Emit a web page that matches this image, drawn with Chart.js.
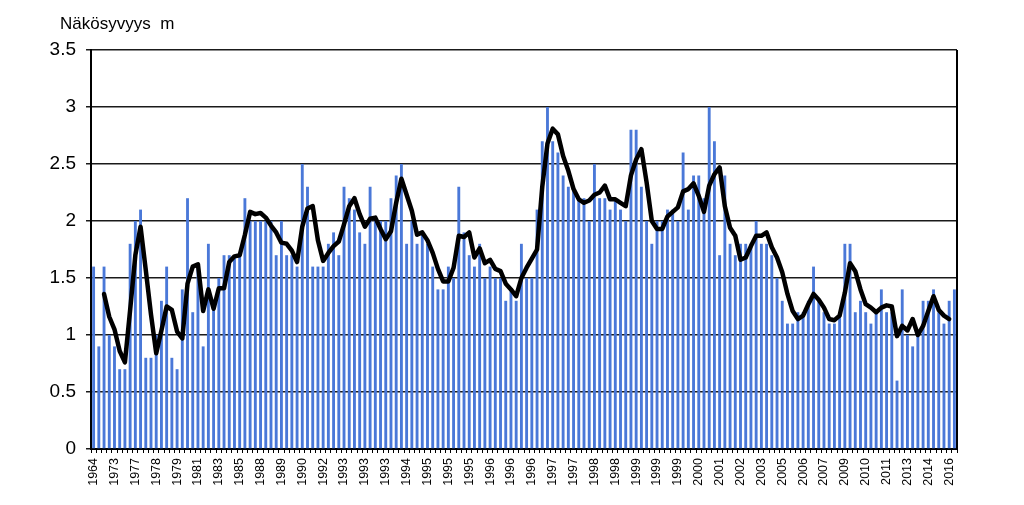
<!DOCTYPE html>
<html>
<head>
<meta charset="utf-8">
<script src="https://cdn.jsdelivr.net/npm/chart.js@4/dist/chart.umd.min.js"></script>
<style>
  html, body { margin: 0; padding: 0; background: #fff; }
  #wrap { width: 1024px; height: 505px; }
</style>
</head>
<body>
<div id="wrap"><canvas id="chart" width="1024" height="505"></canvas></div>
<script>
const yTitle = "Näkösyvyys  m";

// shown every 4th bar
const tickLabels = [
  "1964", "1973", "1977", "1978", "1979", "1981", "1983", "1985", "1988", "1989",
  "1990", "1992", "1993", "1993", "1993", "1994", "1995", "1995", "1995", "1996",
  "1996", "1996", "1997", "1997", "1998", "1998", "1999", "1999", "1999", "2000",
  "2001", "2002", "2003", "2005", "2006", "2007", "2009", "2010", "2011", "2013",
  "2014", "2016"
];

// visibility depth per measurement, m
const barValues = [
  1.6, 0.9, 1.6, 1.0, 0.9, 0.7, 0.7, 1.8, 2.0, 2.1,
  0.8, 0.8, 1.0, 1.3, 1.6, 0.8, 0.7, 1.4, 2.2, 1.2,
  1.6, 0.9, 1.8, 1.3, 1.5, 1.7, 1.7, 1.7, 1.7, 2.2,
  2.0, 2.0, 2.0, 2.0, 2.0, 1.7, 2.0, 1.7, 1.7, 1.6,
  2.5, 2.3, 1.6, 1.6, 1.6, 1.8, 1.9, 1.7, 2.3, 2.2,
  2.1, 1.9, 1.8, 2.3, 2.0, 2.0, 2.0, 2.2, 2.4, 2.5,
  1.8, 2.0, 1.8, 1.9, 1.8, 1.6, 1.4, 1.4, 1.6, 1.5,
  2.3, 1.9, 1.7, 1.6, 1.8, 1.5, 1.6, 1.5, 1.5, 1.3,
  1.4, 1.3, 1.8, 1.5, 1.5, 2.1, 2.7, 3.0, 2.7, 2.6,
  2.4, 2.3, 2.3, 2.2, 2.2, 2.0, 2.5, 2.2, 2.2, 2.1,
  2.2, 2.1, 2.0, 2.8, 2.8, 2.3, 2.0, 1.8, 2.0, 2.0,
  2.1, 2.1, 2.0, 2.6, 2.1, 2.4, 2.4, 2.2, 3.0, 2.7,
  1.7, 2.4, 1.8, 1.7, 1.8, 1.8, 1.8, 2.0, 1.8, 1.8,
  1.7, 1.5, 1.3, 1.1, 1.1, 1.2, 1.2, 1.3, 1.6, 1.3,
  1.2, 1.1, 1.1, 1.2, 1.8, 1.8, 1.2, 1.3, 1.2, 1.1,
  1.2, 1.4, 1.2, 1.2, 0.6, 1.4, 1.0, 0.9, 1.0, 1.3,
  1.3, 1.4, 1.2, 1.1, 1.3, 1.4
];

// moving average line
const avgValues = [
  null, null, 1.36, 1.16, 1.05, 0.86, 0.76, 1.22, 1.70, 1.95,
  1.57, 1.18, 0.84, 1.04, 1.25, 1.22, 1.03, 0.97, 1.45, 1.60,
  1.62, 1.21, 1.40, 1.23, 1.41, 1.41, 1.64, 1.69, 1.70, 1.88,
  2.08, 2.06, 2.07, 2.03, 1.96, 1.90, 1.81, 1.80, 1.74, 1.64,
  1.95, 2.11, 2.13, 1.83, 1.65, 1.72, 1.78, 1.82, 1.97, 2.13,
  2.20, 2.06, 1.95, 2.02, 2.03, 1.93, 1.84, 1.91, 2.16, 2.37,
  2.23, 2.09, 1.88, 1.90, 1.83, 1.72, 1.58, 1.47, 1.47, 1.59,
  1.87, 1.86, 1.90, 1.68, 1.76, 1.63, 1.66, 1.58, 1.56, 1.45,
  1.40, 1.34, 1.50, 1.59, 1.67, 1.75, 2.30, 2.68, 2.81, 2.76,
  2.57, 2.44, 2.28, 2.19, 2.16, 2.18, 2.23, 2.25, 2.31, 2.19,
  2.19, 2.16, 2.13, 2.40, 2.54, 2.63, 2.34, 2.00, 1.93, 1.93,
  2.04, 2.08, 2.12, 2.26, 2.28, 2.33, 2.22, 2.08, 2.31, 2.41,
  2.47, 2.13, 1.94, 1.87, 1.66, 1.68, 1.78, 1.87, 1.87, 1.90,
  1.77, 1.68, 1.55, 1.36, 1.21, 1.14, 1.17, 1.27, 1.36, 1.31,
  1.24, 1.14, 1.13, 1.17, 1.37, 1.63, 1.56, 1.40, 1.27, 1.24,
  1.20, 1.24, 1.26, 1.25, 0.99, 1.08, 1.04, 1.14, 1.00, 1.08,
  1.21, 1.34, 1.22, 1.17, 1.14, null
];

const FONT = "'Liberation Sans', Arial, sans-serif";
Chart.defaults.font.family = FONT;
Chart.defaults.color = "#000";

// right border of the plot and the unit title
const framePlugin = {
  id: "frame",
  afterDraw(chart) {
    const {ctx, chartArea} = chart;
    ctx.save();
    ctx.strokeStyle = "#000";
    ctx.lineWidth = 2;
    ctx.beginPath();
    ctx.moveTo(chartArea.right, chartArea.top);
    ctx.lineTo(chartArea.right, chartArea.bottom);
    ctx.stroke();
    ctx.fillStyle = "#000";
    ctx.font = "17px " + FONT;
    ctx.fillText(yTitle, 60, 29);
    ctx.restore();
  }
};

new Chart(document.getElementById("chart"), {
  type: "bar",
  data: {
    labels: barValues.map((_, i) => i),
    datasets: [
      {
        type: "line",
        data: avgValues,
        borderColor: "#000",
        borderWidth: 4.5,
        borderJoinStyle: "round",
        borderCapStyle: "round",
        pointRadius: 0,
        tension: 0,
        spanGaps: false,
        order: 0
      },
      {
        data: barValues,
        backgroundColor: "#4a78d8",
        barPercentage: 0.55,
        categoryPercentage: 1,
        order: 1
      }
    ]
  },
  options: {
    responsive: false,
    animation: false,
    layout: {padding: {left: 0, right: 67, top: 50, bottom: 0}},
    plugins: {legend: {display: false}, tooltip: {enabled: false}, title: {display: false}},
    scales: {
      x: {
        ticks: {
          autoSkip: false,
          minRotation: 90,
          maxRotation: 90,
          padding: 5,
          font: {size: 12.5},
          callback: (v, i) => (i % 4 === 0 ? tickLabels[i / 4] : "")
        },
        grid: {drawOnChartArea: false, drawTicks: true, tickLength: 4, color: "#000", lineWidth: 1},
        border: {color: "#000", width: 2},
        afterFit: (s) => { s.height = 56; }
      },
      y: {
        min: 0,
        max: 3.5,
        z: 1,
        ticks: {stepSize: 0.5, padding: 10, font: {size: 19}, callback: (v) => String(v)},
        grid: {color: "#1a1a1a", lineWidth: 1.5, tickLength: 5},
        border: {color: "#000", width: 2},
        afterFit: (s) => { s.width = 91; }
      }
    }
  },
  plugins: [framePlugin]
});
</script>
</body>
</html>
